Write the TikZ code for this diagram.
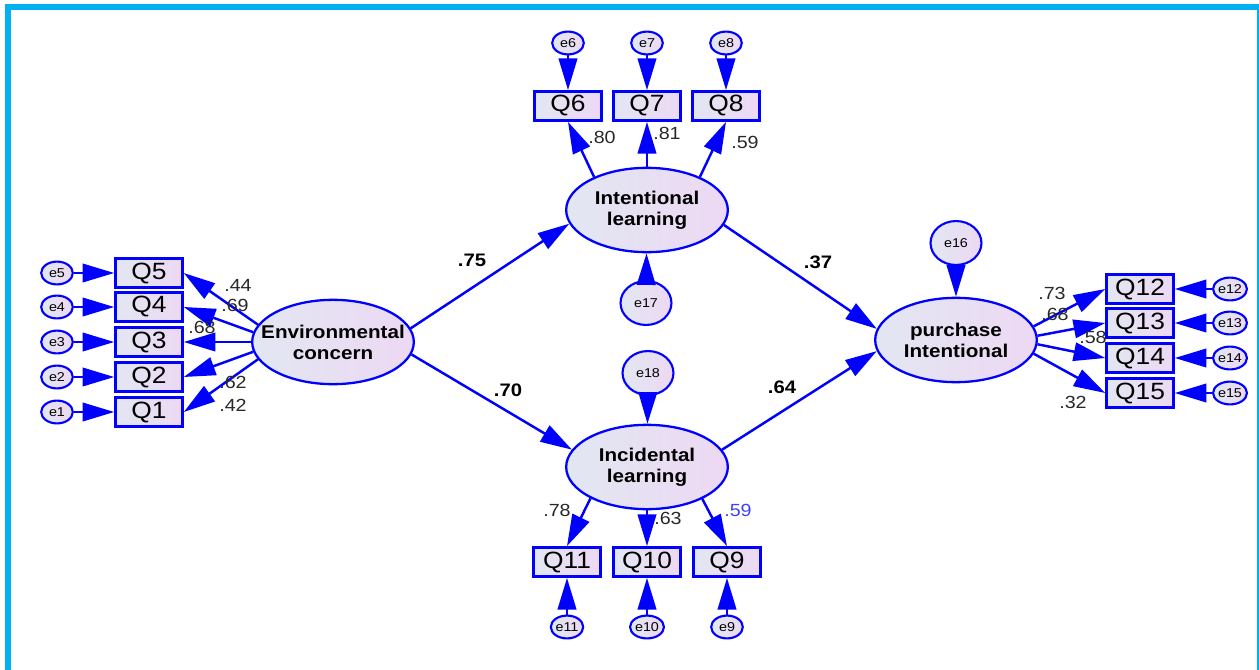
\documentclass[tikz,border=0pt]{standalone}
\usepackage{fontspec}
\setmainfont{Liberation Sans}[FakeStretch=1.12]
\usetikzlibrary{arrows.meta,shapes.geometric}
\definecolor{amosblue}{RGB}{0,0,255}
\definecolor{framecyan}{RGB}{0,176,240}
\definecolor{fillL}{RGB}{226,231,242}
\definecolor{fillR}{RGB}{237,216,243}
\definecolor{loadtxt}{RGB}{40,40,40}
\definecolor{loadblue}{RGB}{64,64,255}
\tikzset{
  obs/.style={draw=amosblue,line width=1.6pt,left color=fillL,right color=fillR,
    minimum width=38pt,minimum height=16.5pt,inner sep=0pt,font=\fontsize{13.4}{14}\selectfont},
  lat/.style={ellipse,draw=amosblue,line width=1.3pt,left color=fillL,right color=fillR,
    minimum width=92pt,minimum height=48pt,inner xsep=-10pt,inner ysep=0pt,align=center,
    font=\fontsize{10.5}{12}\selectfont\bfseries},
  err/.style={ellipse,draw=amosblue,line width=1.2pt,left color=fillL,right color=fillR,
    minimum width=18pt,minimum height=13pt,inner sep=0pt,font=\fontsize{7.3}{8}\selectfont},
  bigerr/.style={err,minimum width=29pt,minimum height=25pt},
  arr/.style={draw=amosblue,line width=1.4pt,-{Triangle[length=18pt,width=10.5pt]}},
  coef/.style={font=\fontsize{10}{12}\selectfont,text=loadtxt,inner sep=0pt},
  beta/.style={font=\fontsize{10.3}{12}\selectfont\bfseries,inner sep=0pt}
}
\begin{document}
\begin{tikzpicture}[x=0.02cm,y=-0.02cm]
\useasboundingbox (0,0) rectangle (1259,670);
% frame
\fill[framecyan] (5,4) rectangle (11,670);
\fill[framecyan] (5,4) rectangle (1259,10);
\fill[framecyan] (1257,4) rectangle (1259,670);
% latent variables
\node[lat] (env) at (333,342) {Environmental\\concern};
\node[lat] (il) at (647,210) {Intentional\\learning};
\node[lat] (ic) at (647,467) {Incidental\\learning};
\node[lat] (pi) at (956,340) {purchase\\Intentional};
\node[bigerr] (e17) at (646,303) {e17};
\node[bigerr] (e18) at (648,373) {e18};
\node[bigerr] (e16) at (956,243) {e16};
\draw[arr] (e17) -- (il);
\draw[arr] (e18) -- (ic);
\draw[arr] (e16) -- (pi);
% environmental concern items
\foreach \n/\y in {5/273,4/307,3/342,2/377,1/412} {
  \node[obs] (q\n) at (149,\y) {Q\n};
  \node[err] (e\n) at (57,\y) {e\n};
  \draw[arr] (e\n) -- (q\n);
}
\foreach \n/\a in {5/167,4/173,3/180,2/187,1/193} \draw[arr] (env.\a) -- (q\n.east);
\node[coef] (l5) at (238,285) {.44};
\node[coef] (l4) at (235,305) {.69};
\node[coef] (l3) at (202,327) {.68};
\node[coef] (l2) at (233,382) {.62};
\node[coef] (l1) at (233,405) {.42};
% intentional learning items
\foreach \n/\x in {6/568,7/647,8/726} {
  \node[obs] (q\n) at (\x,106) {Q\n};
  \node[err] (e\n) at (\x,43) {e\n};
  \draw[arr] (e\n) -- (q\n);
}
\draw[arr] (il.148) -- (q6.south);
\draw[arr] (il.90) -- (q7.south);
\draw[arr] (il.32) -- (q8.south);
\node[coef] (l6) at (602,137) {.80};
\node[coef] (l7) at (667,133) {.81};
\node[coef] (l8) at (745,142) {.59};
% incidental learning items
\foreach \n/\x in {11/567,10/647,9/727} {
  \node[obs] (q\n) at (\x,562) {Q\n};
  \node[err] (e\n) at (\x,627) {e\n};
  \draw[arr] (e\n) -- (q\n);
}
\draw[arr] (ic.209) -- (q11.north);
\draw[arr] (ic.270) -- (q10.north);
\draw[arr] (ic.330) -- (q9.north);
\node[coef] (l11) at (557,510) {.78};
\node[coef] (l10) at (668,518) {.63};
\node[coef,text=loadblue] (l9) at (738,510) {.59};
% purchase intention items
\foreach \n/\y in {12/289,13/323,14/358,15/393} {
  \node[obs] (q\n) at (1140,\y) {Q\n};
  \node[err] (e\n) at (1230,\y) {e\n};
  \draw[arr] (e\n) -- (q\n);
}
\foreach \n/\a in {12/10,13/3,14/-3,15/-10} \draw[arr] (pi.\a) -- (q\n.west);
\node[coef] (l12) at (1052,293) {.73};
\node[coef] (l13) at (1055,314) {.68};
\node[coef] (l14) at (1093,337) {.58};
\node[coef] (l15) at (1073,402) {.32};
% structural paths
\draw[arr] (env.10) -- (il.190);
\draw[arr] (env.351) -- (ic.167);
\draw[arr] (il.349) -- (pi.172);
\draw[arr] (ic.13) -- (pi.188);
\node[beta] (b1) at (472,260) {.75};
\node[beta] (b2) at (508,390) {.70};
\node[beta] (b3) at (818,262) {.37};
\node[beta] (b4) at (782,387) {.64};
\end{tikzpicture}
\end{document}
